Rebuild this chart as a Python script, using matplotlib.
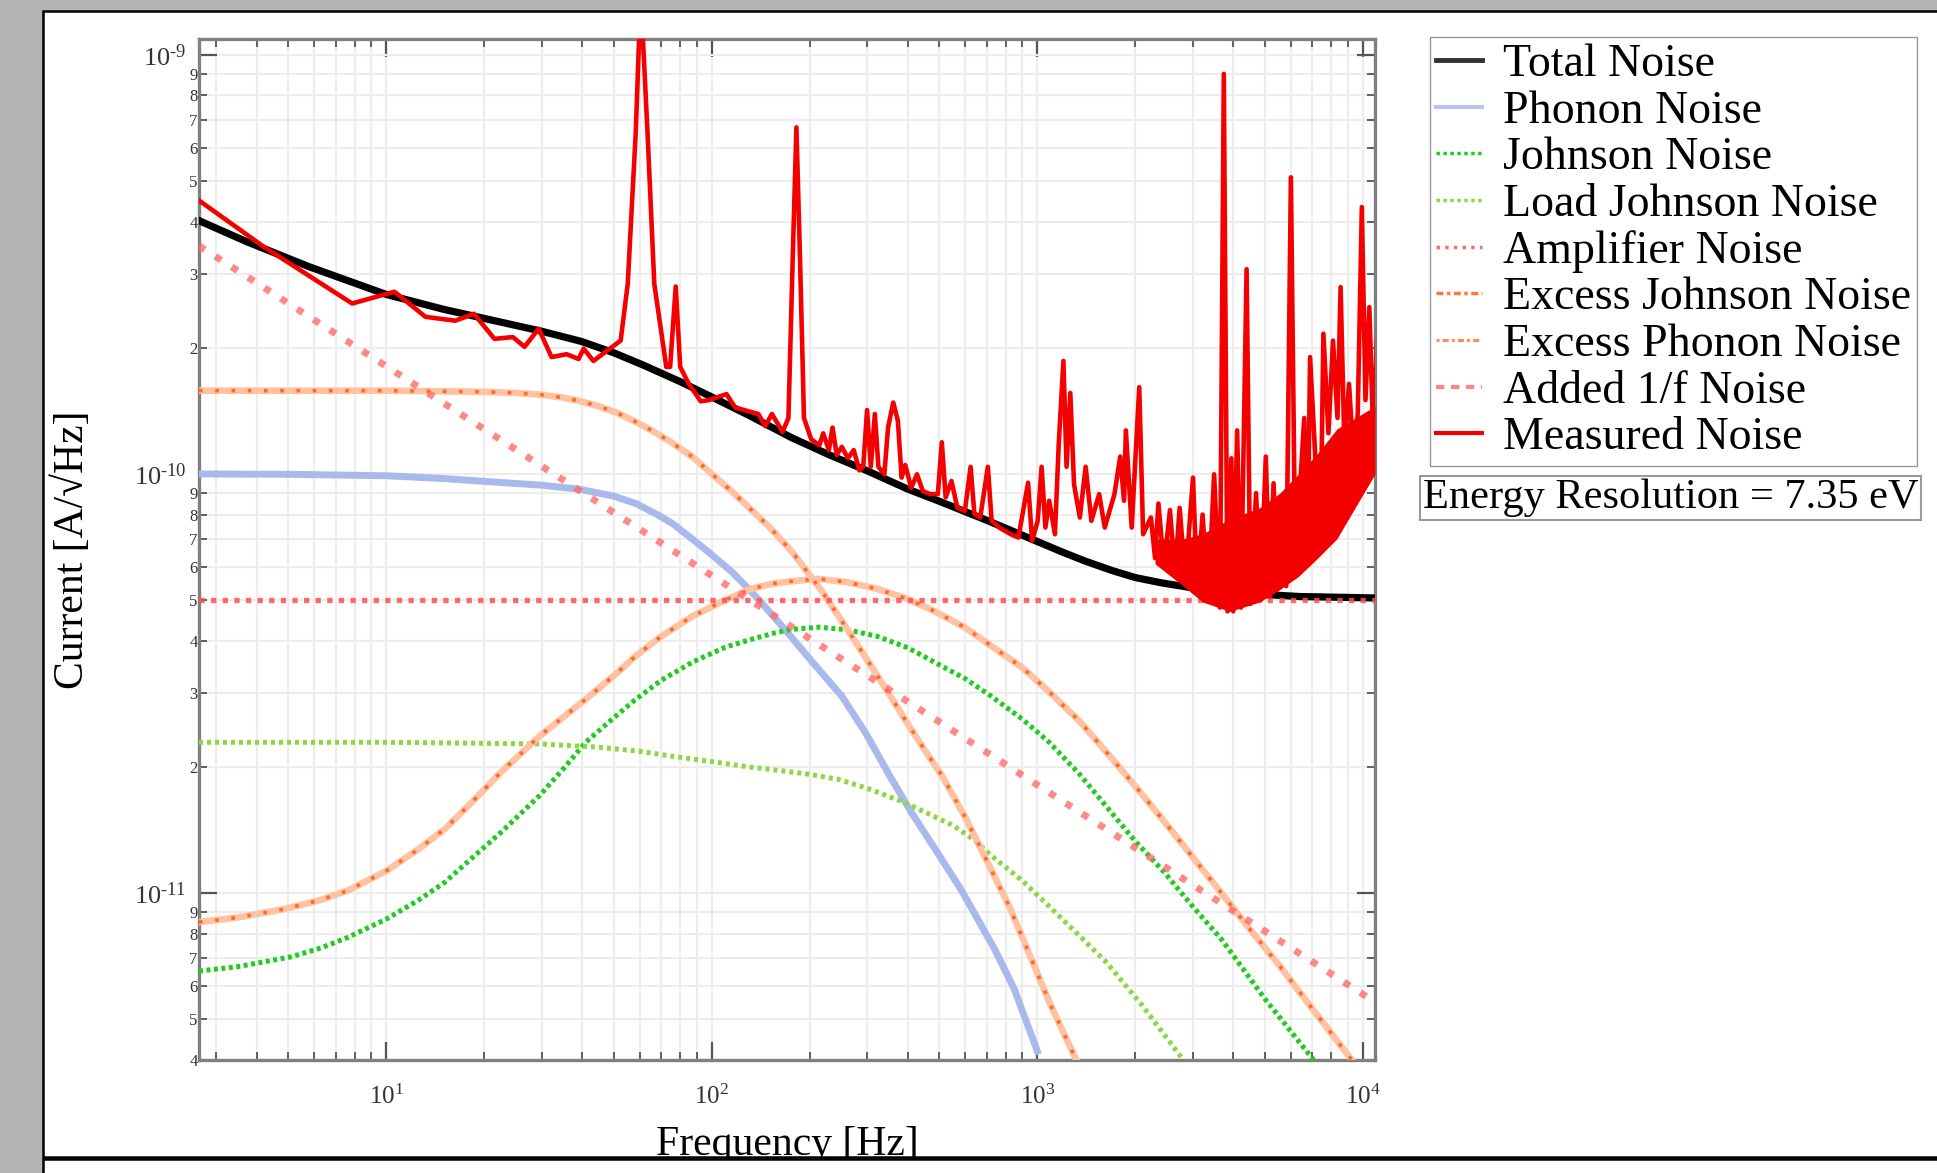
import matplotlib
matplotlib.use("Agg")
import matplotlib.pyplot as plt
from matplotlib.patches import Rectangle
from matplotlib.lines import Line2D
from matplotlib.ticker import FixedLocator, FixedFormatter

plt.rcParams['font.family'] = ['Liberation Serif', 'DejaVu Serif']
plt.rcParams['mathtext.fontset'] = 'custom'
plt.rcParams['mathtext.rm'] = 'Liberation Serif'
plt.rcParams['mathtext.it'] = 'Liberation Serif:italic'
plt.rcParams['mathtext.bf'] = 'Liberation Serif:bold'

# ---------------- data ----------------
total_f = [2.66, 3.73, 5.8, 10, 15, 21.5, 30, 39.8, 50, 61.4, 80, 99.3, 130, 176, 230, 298, 400, 501,
           700, 1000, 1200, 1400, 1700, 2000, 2400, 2900, 4100, 6400, 10900]
total_v = [4.02e-10, 3.58e-10, 3.12e-10, 2.68e-10, 2.47e-10, 2.32e-10, 2.19e-10, 2.07e-10, 1.945e-10,
           1.82e-10, 1.66e-10, 1.53e-10, 1.38e-10, 1.22e-10, 1.11e-10, 1.02e-10, 9.2e-11, 8.6e-11,
           7.75e-11, 6.9e-11, 6.5e-11, 6.2e-11, 5.88e-11, 5.66e-11, 5.5e-11, 5.37e-11, 5.2e-11,
           5.1e-11, 5.06e-11]

phonon_f = [2.66, 5, 10, 15, 20, 30, 39, 50, 58.5, 68, 76, 87, 98, 115, 132, 150, 168, 200, 251, 298,
            350, 410, 500, 583, 660, 743, 850, 1000]
phonon_v = [1.0e-10, 9.98e-11, 9.9e-11, 9.75e-11, 9.6e-11, 9.4e-11, 9.2e-11, 8.85e-11, 8.5e-11,
            8.0e-11, 7.6e-11, 7.0e-11, 6.5e-11, 5.85e-11, 5.25e-11, 4.7e-11, 4.25e-11, 3.62e-11,
            2.95e-11, 2.4e-11, 1.92e-11, 1.56e-11, 1.23e-11, 1.02e-11, 8.6e-12, 7.3e-12, 5.9e-12,
            4.2e-12]

johnson_f = [2.66, 3.5, 5.1, 6.3, 7.64, 10, 12.5, 15.1, 18.5, 22.6, 29.6, 35, 41, 50, 58.4, 70, 87.4,
             110, 132, 155, 177, 213, 260, 322, 400, 482, 600, 722, 900, 1088, 1350, 1630, 2000,
             2460, 3000, 3680, 5000, 7060]
johnson_v = [6.52e-12, 6.68e-12, 7.05e-12, 7.4e-12, 7.85e-12, 8.67e-12, 9.6e-12, 1.06e-11, 1.22e-11,
             1.40e-11, 1.71e-11, 1.98e-11, 2.29e-11, 2.62e-11, 2.90e-11, 3.22e-11, 3.56e-11, 3.86e-11,
             4.03e-11, 4.17e-11, 4.26e-11, 4.31e-11, 4.25e-11, 4.10e-11, 3.85e-11, 3.56e-11, 3.25e-11,
             2.95e-11, 2.6e-11, 2.29e-11, 1.92e-11, 1.61e-11, 1.33e-11, 1.12e-11, 9.3e-12, 7.76e-12,
             5.6e-12, 4.0e-12]

load_f = [2.66, 10, 29.6, 44.6, 60, 76, 100, 130, 163, 200, 244, 300, 387, 460, 552, 640, 722, 900,
          1088, 1350, 1630, 2100, 2810]
load_v = [2.29e-11, 2.29e-11, 2.27e-11, 2.23e-11, 2.18e-11, 2.12e-11, 2.06e-11, 2.0e-11, 1.96e-11,
          1.92e-11, 1.87e-11, 1.78e-11, 1.65e-11, 1.55e-11, 1.45e-11, 1.34e-11, 1.23e-11, 1.07e-11,
          9.3e-12, 7.9e-12, 6.84e-12, 5.4e-12, 4.0e-12]

amp_f = [2.66, 10900]
amp_v = [5.0e-11, 5.0e-11]

exj_f = [2.66, 3.5, 4.82, 6.2, 7.64, 10, 12.5, 15.1, 18.5, 22.6, 29.6, 35, 41, 50, 58.4, 70, 87.4,
         110, 132, 155, 181, 213, 260, 322, 400, 482, 600, 722, 900, 1088, 1350, 1630, 2000, 2460,
         3000, 3680, 4500, 5560, 7000, 9250]
exj_v = [8.53e-12, 8.75e-12, 9.15e-12, 9.6e-12, 1.015e-11, 1.13e-11, 1.27e-11, 1.42e-11, 1.66e-11,
         1.95e-11, 2.37e-11, 2.63e-11, 2.9e-11, 3.3e-11, 3.68e-11, 4.1e-11, 4.58e-11, 5.0e-11,
         5.32e-11, 5.48e-11, 5.56e-11, 5.62e-11, 5.52e-11, 5.32e-11, 5.03e-11, 4.71e-11, 4.3e-11,
         3.89e-11, 3.45e-11, 3.02e-11, 2.57e-11, 2.17e-11, 1.80e-11, 1.48e-11, 1.22e-11, 1.0e-11,
         8.2e-12, 6.7e-12, 5.3e-12, 4.0e-12]

exp_f = [2.66, 10, 20, 25, 30, 35, 39, 45, 51, 58, 66.6, 75, 87, 100, 115, 151, 177, 220, 281, 340,
         398, 450, 511, 600, 687, 820, 951, 1100, 1318]
exp_v = [1.58e-10, 1.58e-10, 1.57e-10, 1.56e-10, 1.545e-10, 1.52e-10, 1.495e-10, 1.45e-10, 1.40e-10,
         1.335e-10, 1.26e-10, 1.19e-10, 1.10e-10, 1.0e-10, 9.1e-11, 7.45e-11, 6.5e-11, 5.2e-11,
         3.9e-11, 3.1e-11, 2.55e-11, 2.2e-11, 1.9e-11, 1.52e-11, 1.23e-11, 9.3e-12, 7.08e-12,
         5.4e-12, 4.0e-12]

onef_f = [2.66, 10900]
onef_v = [3.5e-10, 5.5e-12]

meas_f = [2.66, 4.21, 7.86, 10.6, 13.2, 16.3, 18.6, 21.5, 24.5, 26.6, 29.4, 32.2, 35.8, 39.0, 40.4,
          43.3, 52.5, 55.2, 58.4, 60.5, 63.5, 66.6, 72.5, 74.5, 77.5, 80.0, 85.0, 92.5, 98, 111, 118,
          139, 146, 153, 165, 172, 177, 182, 187, 192, 202, 214, 220, 229, 235, 242, 251, 262, 273,
          284, 292, 300, 308, 317, 325, 339, 348, 361, 373, 383, 393, 410, 427, 445, 469, 495, 509,
          523, 545, 568, 599, 624, 641, 668, 705, 724, 764, 829, 875, 937, 964, 1003, 1031, 1059,
          1088, 1133, 1164, 1203, 1230, 1263, 1297, 1351, 1408, 1466, 1549, 1612, 1726, 1798, 1847,
          1871, 1950, 2057, 2114, 2234, 2300, 2356, 2450, 2556, 2650, 2737, 2850, 3009, 3100, 3219,
          3350, 3493, 3640, 3741, 3840, 3947, 4000, 4111, 4222, 4395, 4518, 4700, 4850, 5035, 5180,
          5319, 5460, 5613, 5818, 6012, 6209, 6400, 6607, 6750, 6887, 7168, 7400, 7568, 7839, 8099,
          8360, 8547, 8784, 9071, 9401, 9650, 9931, 10190, 10470, 10760, 11060]
meas_v = [4.49e-10, 3.48e-10, 2.55e-10, 2.72e-10, 2.37e-10, 2.32e-10, 2.41e-10, 2.10e-10, 2.12e-10,
          2.01e-10, 2.22e-10, 1.90e-10, 1.93e-10, 1.88e-10, 1.99e-10, 1.86e-10, 2.08e-10, 2.84e-10,
          6.5e-10, 1.4e-9, 6.5e-10, 2.84e-10, 1.80e-10, 1.80e-10, 2.80e-10, 1.80e-10, 1.64e-10,
          1.49e-10, 1.50e-10, 1.55e-10, 1.44e-10, 1.39e-10, 1.30e-10, 1.39e-10, 1.26e-10, 1.36e-10,
          3.11e-10, 6.71e-10, 3.11e-10, 1.36e-10, 1.21e-10, 1.17e-10, 1.25e-10, 1.14e-10, 1.29e-10,
          1.11e-10, 1.16e-10, 1.09e-10, 1.14e-10, 1.02e-10, 1.04e-10, 1.42e-10, 1.04e-10, 1.39e-10,
          1.04e-10, 9.98e-11, 1.29e-10, 1.48e-10, 1.34e-10, 9.8e-11, 1.05e-10, 9.27e-11, 9.98e-11,
          9.1e-11, 8.95e-11, 8.95e-11, 1.19e-10, 8.79e-11, 9.62e-11, 8.32e-11, 8.16e-11, 1.04e-10,
          8.02e-11, 7.87e-11, 1.04e-10, 7.73e-11, 7.45e-11, 7.18e-11, 7.05e-11, 9.53e-11, 6.92e-11,
          7.73e-11, 1.04e-10, 7.45e-11, 8.63e-11, 7.18e-11, 1.18e-10, 1.86e-10, 1.04e-10, 1.56e-10,
          9.44e-11, 7.87e-11, 1.04e-10, 7.73e-11, 8.95e-11, 7.45e-11, 8.95e-11, 1.10e-10, 8.63e-11,
          1.27e-10, 7.45e-11, 1.61e-10, 7.18e-11, 7.87e-11, 6.3e-11, 8.5e-11, 6.0e-11, 8.2e-11,
          5.8e-11, 8.3e-11, 5.6e-11, 9.8e-11, 5.3e-11, 8.0e-11, 5.0e-11, 9.98e-11, 4.8e-11, 9.0e-10,
          4.7e-11, 1.09e-10, 4.7e-11, 1.27e-10, 4.8e-11, 3.08e-10, 4.9e-11, 9.0e-11, 5.0e-11, 1.1e-10,
          5.1e-11, 9.5e-11, 5.3e-11, 7.52e-11, 5.4e-11, 5.1e-10, 5.7e-11, 9.0e-11, 1.36e-10, 6.1e-11,
          1.9e-10, 1.04e-10, 6.5e-11, 2.16e-10, 1.25e-10, 2.08e-10, 1.36e-10, 2.79e-10, 1.14e-10,
          1.64e-10, 1.04e-10, 1.4e-10, 4.33e-10, 1.5e-10, 2.5e-10, 1.25e-10, 2.12e-10]

band_f = [2300, 2810, 3220, 3900, 4820, 5560, 6350, 7270, 8320, 10900]
band_lo = [6.1e-11, 5.4e-11, 4.95e-11, 4.7e-11, 4.95e-11, 5.3e-11, 5.7e-11, 6.3e-11, 7.0e-11, 1.0e-10]
band_hi = [7.0e-11, 7.0e-11, 7.2e-11, 7.8e-11, 8.3e-11, 9.0e-11, 1.0e-10, 1.12e-10, 1.28e-10, 1.45e-10]

x_major = [10, 100, 1000, 10000]
x_major_labels = ['$10^{1}$', '$10^{2}$', '$10^{3}$', '$10^{4}$']
x_minor = [3, 4, 5, 6, 7, 8, 9, 20, 30, 40, 50, 60, 70, 80, 90, 200, 300, 400, 500, 600, 700, 800,
           900, 2000, 3000, 4000, 5000, 6000, 7000, 8000, 9000]
y_major = [1e-11, 1e-10, 1e-9]
y_major_labels = ['$10^{\u201011}$', '$10^{\u201010}$', '$10^{\u20109}$']
y_minor = [4e-12, 5e-12, 6e-12, 7e-12, 8e-12, 9e-12, 2e-11, 3e-11, 4e-11, 5e-11, 6e-11, 7e-11, 8e-11,
           9e-11, 2e-10, 3e-10, 4e-10, 5e-10, 6e-10, 7e-10, 8e-10, 9e-10]
y_minor_labels = ['4', '5', '6', '7', '8', '9', '2', '3', '4', '5', '6', '7', '8', '9',
                  '2', '3', '4', '5', '6', '7', '8', '9']

labels = ['Total Noise', 'Phonon Noise', 'Johnson Noise', 'Load Johnson Noise', 'Amplifier Noise',
          'Excess Johnson Noise', 'Excess Phonon Noise', 'Added 1/f Noise', 'Measured Noise']

# ---------------- figure ----------------
W, H = 1937, 1173
fig = plt.figure(figsize=(W / 100, H / 100), dpi=100)
fig.patch.set_facecolor('#b4b4b4')

def fx(px):
    return px / W

def fy(py):
    return 1 - py / H

fig.add_artist(Rectangle((fx(43), fy(1157)), 1.2, fy(11) - fy(1157), transform=fig.transFigure,
                         facecolor='white', edgecolor='black', lw=1.8, zorder=-10))
fig.add_artist(Rectangle((fx(43), -0.2), 1.2, fy(1159) + 0.2, transform=fig.transFigure,
                         facecolor='white', edgecolor='black', lw=1.8, zorder=10))

ax = fig.add_axes([fx(199), fy(1060), fx(1375) - fx(199), fy(39) - fy(1060)])
ax.set_xscale('log')
ax.set_yscale('log')

# curves
ax.plot(total_f, total_v, color='black', lw=5.2, zorder=3)
ax.plot(phonon_f, phonon_v, color='#aab9ec', lw=5, zorder=3)
ax.plot(johnson_f, johnson_v, color='#1fcc1f', lw=3.6, dashes=(0.8, 0.7), zorder=3)
ax.plot(load_f, load_v, color='#8cd844', lw=3.6, dashes=(0.8, 0.8), zorder=3)
ax.plot(amp_f, amp_v, color='#ff4f4f', alpha=0.85, lw=3.8, dashes=(1, 1.2), zorder=4)
ax.plot(exj_f, exj_v, color='#ffc3a3', lw=4.8, zorder=3)
ax.plot(exj_f, exj_v, color='#ff6a26', lw=2.6, dashes=(1, 3.5), zorder=3)
ax.plot(exp_f, exp_v, color='#ffc3a3', lw=4.8, zorder=3)
ax.plot(exp_f, exp_v, color='#ff6a26', lw=2.6, dashes=(1, 3.5), zorder=3)
ax.plot(onef_f, onef_v, color='#ff6b6b', alpha=0.8, lw=5, dashes=(1, 1.8), zorder=4)
ax.fill_between(band_f, band_lo, band_hi, color='#f40000', lw=0, zorder=5)
ax.plot(meas_f, meas_v, color='#f40000', lw=3.3, zorder=5)

ax.set_xlim(2.66, 10900)
ax.set_ylim(4e-12, 1.09e-9)

ax.xaxis.set_major_locator(FixedLocator(x_major))
ax.xaxis.set_major_formatter(FixedFormatter(x_major_labels))
ax.xaxis.set_minor_locator(FixedLocator(x_minor))
ax.xaxis.set_minor_formatter(FixedFormatter([''] * len(x_minor)))
ax.yaxis.set_major_locator(FixedLocator(y_major))
ax.yaxis.set_major_formatter(FixedFormatter(y_major_labels))
ax.yaxis.set_minor_locator(FixedLocator(y_minor))
ax.yaxis.set_minor_formatter(FixedFormatter(y_minor_labels))

ax.tick_params(which='both', direction='in', top=True, right=True, colors='#555555',
               labelcolor='#333333')
ax.tick_params(which='major', length=13, width=1.6)
ax.tick_params(which='minor', length=6, width=1.3)
ax.tick_params(axis='y', which='major', labelsize=19, pad=9)
ax.tick_params(axis='y', which='minor', labelsize=12, pad=1)
ax.tick_params(axis='x', which='major', labelsize=18, pad=18)

ax.grid(True, which='both', color='#ededed', lw=1.6)
ax.set_axisbelow(True)
for s in ax.spines.values():
    s.set_color('#808080')
    s.set_linewidth(2.4)

ax.set_ylabel('Current [A/\u221aHz]', fontsize=30)
ax.yaxis.set_label_coords(-0.091, 0.5)
ax.set_xlabel('Frequency [Hz]', fontsize=30)
ax.xaxis.set_label_coords(0.5, -0.064)

# legend with thin proxy handles
handles = [
    Line2D([], [], color='#333333', lw=3.5),
    Line2D([], [], color='#b8c4ee', lw=3),
    Line2D([], [], color='#1fcc1f', lw=2.5, dashes=(1, 1)),
    Line2D([], [], color='#8cd844', lw=2.5, dashes=(1, 1)),
    Line2D([], [], color='#ff6b6b', lw=2.5, dashes=(1, 1.5)),
    Line2D([], [], color='#ff7a3a', lw=2.5, dashes=(2, 1, 1, 1)),
    Line2D([], [], color='#ff8c50', lw=2.2, dashes=(1, 1, 2, 1)),
    Line2D([], [], color='#ff8585', lw=3, dashes=(2, 1.6)),
    Line2D([], [], color='#f40000', lw=3),
]
fig.legend(handles, labels, loc='upper left', bbox_to_anchor=(fx(1430), fy(37)),
           fontsize=33, frameon=True, fancybox=False, edgecolor='#999999', framealpha=1,
           handlelength=1.0, handletextpad=0.45, labelspacing=0.09, borderpad=0.14,
           borderaxespad=0)
fig.text(fx(1423), fy(498), 'Energy Resolution = 7.35 eV', fontsize=30.5, ha='left', va='center',
         bbox=dict(boxstyle='square,pad=0.06', fc='white', ec='#999999', lw=1.5))

fig.savefig('out.png', dpi=100, facecolor=fig.get_facecolor())
